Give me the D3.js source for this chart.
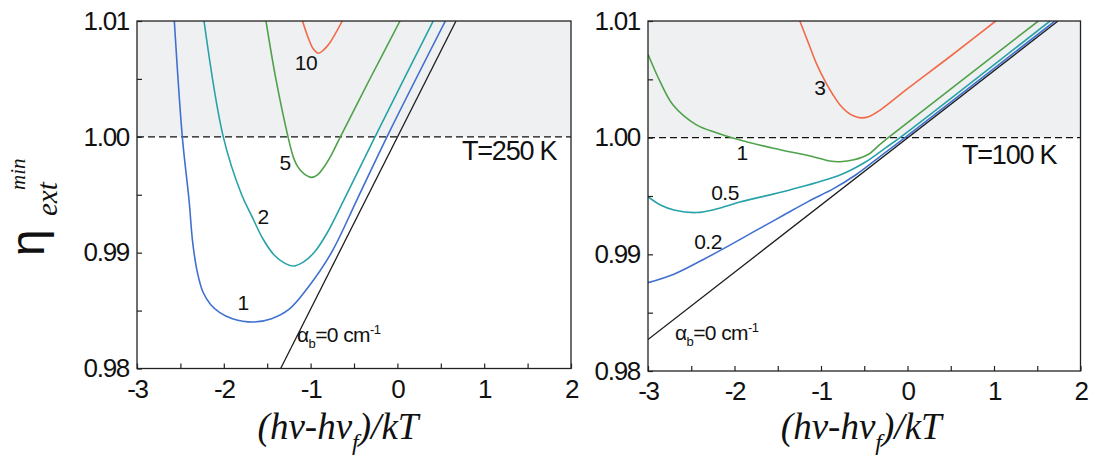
<!DOCTYPE html>
<html>
<head>
<meta charset="utf-8">
<script src="https://cdn.jsdelivr.net/npm/d3@7"></script>
<style>
body{margin:0;background:#fff;}
text{font-family:"Liberation Sans",Arial,sans-serif;fill:#111;}
.serif{font-family:"Liberation Serif","Times New Roman",serif;font-style:italic;}
</style>
</head>
<body>
<svg id="svg" width="1099" height="456"></svg>
<script>
var xTicks=[-3,-2,-1,0,1,2];
var xMinorTicks=[-2.5,-1.5,-0.5,0.5,1.5];
var yTicks=[0.98,0.99,1.00,1.01];
var yMinorTicks=[0.985,0.995,1.005];

// T=250 K, alpha_b = 0,1,2,5,10 cm-1
var hot0=[[-1.345,0.98],[0.675,1.01]];
var hot1=[[-2.57,1.010],[-2.478,1.000],[-2.40,0.9945],[-2.36,0.9910],[-2.31,0.9885],[-2.24,0.9866],[-2.15,0.9855],[-2.05,0.98485],[-1.90,0.9843],[-1.66,0.98401],[-1.45,0.9843],[-1.25,0.9851],[-1.05,0.9868],[-0.76,0.9900],[-0.47,0.9945],[-0.12,1.0000],[0.553,1.0100]];
var hot2=[[-2.228,1.010],[-2.006,1.000],[-1.794,0.995],[-1.68,0.9932],[-1.55,0.9912],[-1.42,0.9898],[-1.30,0.9891],[-1.20,0.98885],[-1.08,0.9892],[-0.95,0.9901],[-0.81,0.9917],[-0.62,0.9945],[-0.258,1.000],[0.413,1.010]];
var hot5=[[-1.514,1.010],[-1.40,1.005],[-1.26,1.000],[-1.20,0.99827],[-1.16,0.99757],[-1.12,0.99713],[-1.06,0.99672],[-0.99,0.99650],[-0.92,0.99672],[-0.85,0.99735],[-0.76,0.99845],[-0.657,1.000],[-0.31,1.0051],[0.03,1.010]];
var hot10=[[-1.093,1.010],[-1.03,1.0086],[-0.97,1.0076],[-0.91,1.00721],[-0.85,1.0075],[-0.78,1.0081],[-0.635,1.010]];

// T=100 K, alpha_b = 0,0.2,0.5,1,3 cm-1
var cold0=[[-3,0.9827],[1.74,1.01]];
var cold02=[[-3,0.98757],[-2.7,0.98830],[-2.4,0.98940],[-2.1,0.99060],[-1.75,0.99205],[-1.45,0.99328],[-1.15,0.99452],[-0.85,0.99565],[-0.6,0.99680],[-0.3,0.99848],[-0.029,1.0],[1.705,1.01]];
var cold05=[[-3,0.99494],[-2.85,0.99420],[-2.7,0.99380],[-2.44,0.99358],[-2.2,0.99390],[-1.94,0.99448],[-1.36,0.99552],[-0.78,0.99680],[-0.5,0.99785],[-0.25,0.99915],[-0.087,1.0],[1.647,1.01]];
var cold1=[[-3,1.00715],[-2.86,1.0048],[-2.71,1.0028],[-2.44,1.0011],[-2.2,1.0004],[-2.01,0.99995],[-1.55,0.99909],[-1.09,0.99837],[-0.90,0.99800],[-0.78,0.99794],[-0.62,0.99810],[-0.45,0.99858],[-0.34,0.99928],[-0.222,1.0],[1.513,1.01]];
var cold3=[[-1.245,1.010],[-1.15,1.0082],[-1.05,1.0063],[-0.95,1.0048],[-0.86,1.00366],[-0.78,1.0028],[-0.70,1.00222],[-0.62,1.00185],[-0.54,1.00170],[-0.45,1.0018],[-0.30,1.00245],[0.0,1.0042],[0.5,1.0070],[1.02,1.0100]];

var colors={black:"#1e1e1e",blue:"#4070d0",teal:"#27a3a8",green:"#50a24a",red:"#f26a48"};

var panels=[
    {id:"hot",left:137,right:571,top:21,bottom:368.5,temp:"T=250 K",tempAt:[0.744,0.9988],
     series:[{v:hot0,c:colors.black},{v:hot1,c:colors.blue},{v:hot2,c:colors.teal},{v:hot5,c:colors.green},{v:hot10,c:colors.red}],
     labels:[{t:"10",at:[-1.053,1.0064]},{t:"5",at:[-1.295,0.9978]},{t:"2",at:[-1.548,0.9931]},{t:"1",at:[-1.779,0.9857]}],
     alphaAt:[-1.157,0.9829]},
    {id:"cold",left:648,right:1080.5,top:21,bottom:371,temp:"T=100 K",tempAt:[0.63,0.9986],
     series:[{v:cold0,c:colors.black},{v:cold02,c:colors.blue},{v:cold05,c:colors.teal},{v:cold1,c:colors.green},{v:cold3,c:colors.red}],
     labels:[{t:"3",at:[-1.012,1.0043]},{t:"1",at:[-1.913,0.9987]},{t:"0.5",at:[-2.11,0.9953]},{t:"0.2",at:[-2.306,0.9911]}],
     alphaAt:[-2.688,0.9833]}
];

var svg=d3.select("#svg");
var defs=svg.append("defs");

panels.forEach(drawPanel);

function drawPanel(p) {
    var x=d3.scaleLinear().domain([-3,2]).range([p.left,p.right]);
    var y=d3.scaleLinear().domain([0.98,1.01]).range([p.bottom,p.top]);
    var g=svg.append("g");

    defs.append("clipPath").attr("id","clip-"+p.id)
        .append("rect")
            .attr("x",x(-3)).attr("y",y(1.01))
            .attr("width",x(2)-x(-3)).attr("height",y(0.98)-y(1.01));

    //shaded region above unity
    g.append("rect")
        .attr("x",x(-3)).attr("y",y(1.01))
        .attr("width",x(2)-x(-3)).attr("height",y(1.00)-y(1.01))
        .attr("fill","#eff0f2");

    g.append("line")
        .attr("x1",x(-3)).attr("x2",x(2))
        .attr("y1",y(1.00)).attr("y2",y(1.00))
        .attr("stroke","#111").attr("stroke-width",1.1)
        .attr("stroke-dasharray","7,4");

    var line=d3.line().x(d=>x(d[0])).y(d=>y(d[1])).curve(d3.curveCatmullRom.alpha(0.5));

    g.append("g").attr("clip-path","url(#clip-"+p.id+")")
        .selectAll("path")
        .data(p.series).enter().append("path")
            .attr("d",d=>line(d.v))
            .attr("fill","none")
            .attr("stroke",d=>d.c)
            .attr("stroke-width",d=>d.c==colors.black?1.3:1.6);

    //axes with inward ticks
    var xAxis=g.append("g")
            .attr("transform","translate(0,"+y(0.98)+")")
        .call(d3.axisBottom(x).tickValues(xTicks.concat(xMinorTicks))
            .tickSize(-5).tickPadding(11)
            .tickFormat(d=>xTicks.indexOf(d)>=0?String(d):""));
    var yAxis=g.append("g")
            .attr("transform","translate("+x(-3)+",0)")
        .call(d3.axisLeft(y).tickValues(yTicks.concat(yMinorTicks))
            .tickSize(-5).tickPadding(8)
            .tickFormat(d=>yTicks.indexOf(d)>=0?d3.format(".2f")(d):""));
    [xAxis,yAxis].forEach(a=>{
        a.select(".domain").remove();
        a.selectAll(".tick line").attr("stroke","#222").attr("stroke-width",1.2);
        a.selectAll(".tick text")
            .style("font-family","'Liberation Sans',Arial,sans-serif")
            .style("font-size","26px")
            .style("letter-spacing","-1.3px")
            .attr("fill","#111");
    });

    g.append("rect")
        .attr("x",x(-3)).attr("y",y(1.01))
        .attr("width",x(2)-x(-3)).attr("height",y(0.98)-y(1.01))
        .attr("fill","none").attr("stroke","#222").attr("stroke-width",1.3);

    //curve labels
    g.selectAll("text.lab")
        .data(p.labels).enter().append("text")
            .attr("class","lab")
            .attr("x",d=>x(d.at[0])).attr("y",d=>y(d.at[1]))
            .attr("dy","0.36em")
            .attr("text-anchor","middle")
            .style("font-size","21px")
            .style("letter-spacing","-0.5px")
            .text(d=>d.t);

    var a=g.append("text")
            .attr("x",x(p.alphaAt[0])).attr("y",y(p.alphaAt[1]))
            .attr("dy","0.36em")
            .style("font-size","21px")
            .style("letter-spacing","-0.6px");
    a.append("tspan").text("α");
    a.append("tspan").attr("dy",6).style("font-size","13px").text("b");
    a.append("tspan").attr("dy",-6).text("=0 cm");
    a.append("tspan").attr("dy",-8).style("font-size","13px").text("-1");

    g.append("text")
        .attr("x",x(p.tempAt[0])).attr("y",y(p.tempAt[1]))
        .attr("dy","0.36em")
        .style("font-size","27px")
        .style("letter-spacing","-1.2px")
        .text(p.temp);

    var t=g.append("text")
            .attr("class","serif")
            .attr("x",(p.left+p.right)/2-(p.id=="hot"?16:3))
            .attr("y",439)
            .attr("text-anchor","middle")
            .style("font-size","37px");
    t.append("tspan").text("(hν-hν");
    t.append("tspan").attr("dy",11).style("font-size","24px").text("f");
    t.append("tspan").attr("dy",-11).text(")/kT");
}

//y axis title
var yt=svg.append("g").attr("transform","rotate(-90)");
yt.append("text").attr("x",-256).attr("y",44).style("font-size","48px").text("η");
yt.append("text").attr("class","serif").attr("x",-216).attr("y",57).style("font-size","29px").text("ext");
yt.append("text").attr("class","serif").attr("x",-190).attr("y",25).style("font-size","21px").text("min");
</script>
</body>
</html>
